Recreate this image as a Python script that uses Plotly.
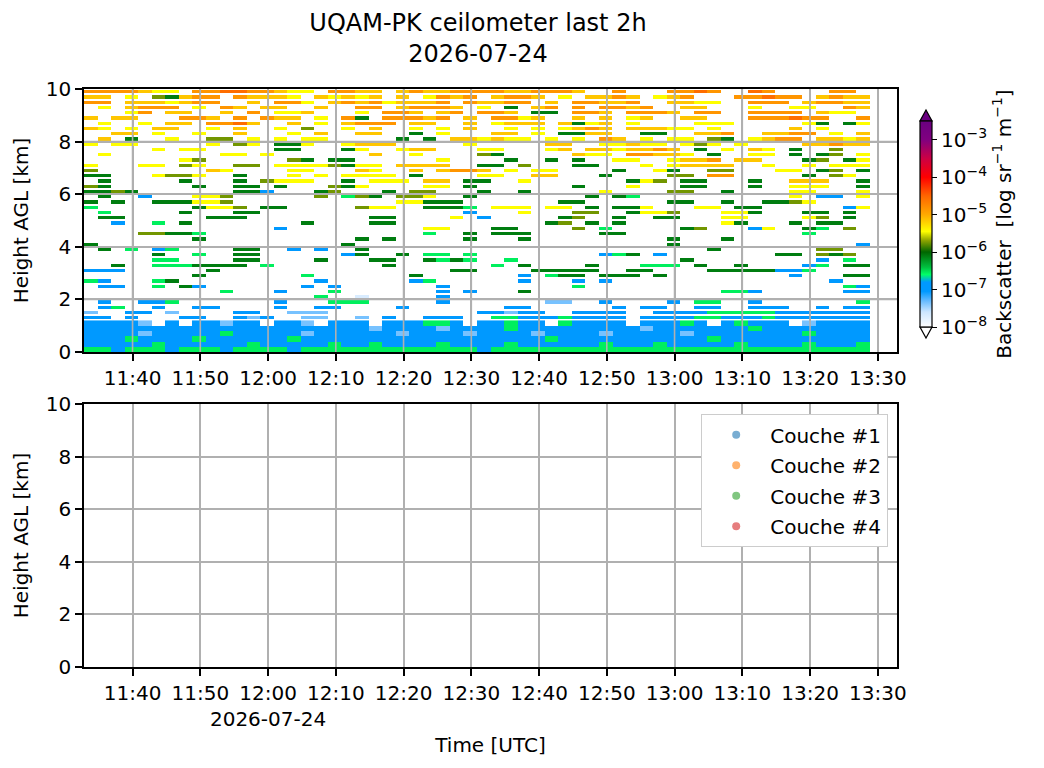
import numpy as np
import pandas as pd
import plotly.graph_objects as go
from plotly.subplots import make_subplots

# jour et fenetre affichee (2 h)
day = "2026-07-24"
t_start = f"{day} 11:32:50"
t_end = f"{day} 13:32:50"
tick_times = ["11:40", "11:50", "12:00", "12:10", "12:20", "12:30",
              "12:40", "12:50", "13:00", "13:10", "13:20", "13:30"]
height_ticks = [0, 2, 4, 6, 8, 10]
cb_exponents = [-8, -7, -6, -5, -4, -3]
layer_names = ["Couche #1", "Couche #2", "Couche #3", "Couche #4"]
layer_colors = ["#1f77b4", "#ff7f0e", "#2ca02c", "#d62728"]

# grille du profil : colonnes de 2 min, rangees de 200 m
col_times = pd.date_range(f"{day} 11:33:50", periods=58, freq="2min")
row_heights = np.arange(0.1, 10.0, 0.2)
n_boundary = 6  # rangees de la couche limite (0-1.2 km), sans espace

# log10 du backscatter, code par caractere ('.' = pas de signal)
level_code = {"1": -7.7, "2": -7.35, "3": -6.95, "4": -6.55, "5": -6.1,
              "6": -5.75, "7": -5.45, "8": -5.15, "9": -4.85, "0": -4.55}

# de 10 km (haut) vers 0 km (bas); colonnes 0-19 / 20-39 / 40-57
rows_a = [
    "9999877.990099877.99", "88.7.65899.98887.878", "99.8887899..8.997.89",
    ".7.8999.7.98.88..8..", "...79.88..8.9.778...", "8.88...998.9.988.7.9",
    ".7..7.88.9908..8.7.8", "87.7.88..7.8..7.6..7", "..88.7..7..8...7.8..",
    ".8.5..7..66.7.7.77..", "7.77.....7.67.557..7", ".....7.77.....55...5",
    ".7........77.7......", ".......76......65.55", "7...77.67..66.777765",
    "6........87....77...", "55...7667..5...7.7.7", ".5.....5...5.6777..5",
    "65......5..55.5...65", "5565.......553...56.", ".5..3...776......6.4",
    "5.5..555776.........", "4.......5776.55.....", ".4.....5...55.......",
    ".55......555........", "..3..4.5........5...", "..............3.....",
    "....66554...........", "........5...........", "5..................5",
    ".5.4.34....55..3.3..", ".....5..4..55......3", ".....44....55....5..",
    "..5..4445555.4......", "333......5..........", "........5.......4...",
    "43...45..........3..", ".33..4.53.......3.3.", "..........4...3...4.",
    ".................4..", ".3..334.......3...44", ".34..3..33....3..33.",
    "2..33.2....33..222..", "33.3...33..323..22..", "33332.3.33233.332.33",
    "33333333333333333333", "33332333334333332333", "33343333433333343333",
    "33333433333343333343", "44344434443444434444",
]
rows_b = [
    "88.89889999889998..9", "78.8.7989.8998.7.889", "8978889.98899.8.9988",
    "99.89998.7.5.89.9.99", "7.998.89.998.55.998.", "5.99989.8.9978..8.8.",
    "999.88..8.7888.8578.", ".8..7.7.8..7.7.7898.", "88..5.7...88.7.5588.",
    "...5.5.887877.7.7.98", "888.....7.....88..77", "7..788...77...78.887",
    ".8..7....65.....877.", "......7....5..5.5..7", "77.8888..55.6...55..",
    "87..8.8998.7.77....5", "777.5....77..88...5.", ".777.88.55..7.......",
    "7....77.5.......5...", "..5.66...5..5.....7.", "65.667..5........5.5",
    "...77555.......55...", "677..5554.777.77.5.5", "........3...7...66..",
    ".55....7.3.....56..5", ".55...........56.5.5", ".....77...55....6.4.",
    ".....4..5.555.....55", "5.5.....5...5.......", "....................",
    "5...................", "5..5.44.4.........34", ".55..5454..4........",
    "..5.......4.5....5..", ".......55....55555..", "....5.......3.455.55",
    "....34......3...3.3.", "......3.........4...", "......3.3...5.......",
    "1.....3.............", "4.....3.......22..3.", "...3.......33......3",
    ".........33233..3333", "2.3..333..4433343333", "3.333443.33433.43333",
    "32333323333433333333", "33323333233332333323", "33333333333333433333",
    "34333343333433333343", "44444444434444444444",
]
rows_c = [
    "...9909..09....99.", "8.789...99099.8988", "9..8877..999.89988",
    "89..88...7..77..98", "9998.99..9999.877.", "78..88...999099..9",
    "7....777.....75.57", "88877.7.....8.7...", ".55..889..8899.7.8",
    ".7.77.65.7899.8878", "877.767.7....88988", "8898.5.7.87.5..6..",
    "99887.5..77.5.56.7", "7..7889.88...56.57", ".7.78888..7..7.777",
    "..75..66...77.56.5", "...66.99.....5.67.", "576.55...5..888..5",
    "7...55...5..777..5", "...66..5....77...7", "4...........7.33.7",
    "...55..5..5567....", "57...77.55......37", "5776...775...55.5.",
    "..55...77....76.5.", ".......75...5.55..", "....56...37..54.6.",
    ".............4....", "...5...5..........", "...5.............3",
    "......5.......66..", "5.3........55.656.", "....5.........3.4.",
    ".444.5..5....34.55", "55....55555334....", "5.5.........3...55",
    "...............3..", "................43", ".......443......33",
    "..................", "...3.44..3.......44", ".33..33..333..3.33",
    "..3333444443333333", ".33334433343333333", ".33343.34333.23333",
    "323333333433333333", "333323333333343333", "333333433333333333",
    "334333334333343334", "444444444444444444",
]

z = []
for a, b, c in zip(rows_a[::-1], rows_b[::-1], rows_c[::-1]):
    s = a.ljust(20, ".")[:20] + b.ljust(20, ".")[:20] + c.ljust(18, ".")[:18]
    z.append([level_code.get(ch, np.nan) for ch in s])

colorscale = [
    [0.000, "#ffffff"], [0.073, "#cce6ff"], [0.127, "#66bbff"],
    [0.173, "#0099ff"], [0.218, "#0099ff"], [0.255, "#00ff66"],
    [0.290, "#00c040"], [0.364, "#006600"], [0.418, "#88a000"],
    [0.464, "#ffff00"], [0.545, "#ffaa00"], [0.636, "#ff6600"],
    [0.727, "#ff0000"], [0.818, "#cc0044"], [0.909, "#800080"],
    [1.000, "#6a0080"],
]

FONT = "DejaVu Sans"
# la page ajoute 8 px de marge autour de la figure
W, H = 1028, 752
ML, MR, MT, MB = 76, 139, 81, 93


def px_x(px):
    return (px - 84) / 813


def px_y(py):
    return (667 - py) / 578


fig = make_subplots(rows=2, cols=1, vertical_spacing=0.09)

cbar = dict(
    lenmode="pixels", len=206, thickness=12,
    x=px_x(920), xanchor="left", xpad=0,
    y=px_y(224), yanchor="middle", ypad=0,
    outlinecolor="black", outlinewidth=1.2,
    tickvals=cb_exponents,
    ticktext=[f"10<sup>\u2212{-e}</sup>" for e in cb_exponents],
    ticks="outside", ticklen=5, tickwidth=1.4, tickcolor="black",
    tickfont=dict(family=FONT, size=20, color="black"),
    title=dict(text="Backscatter\u00a0\u00a0[log sr<sup>\u22121</sup> m<sup>\u22121</sup>]",
               side="right", font=dict(family=FONT, size=20, color="black")),
)

# couche limite (continue) puis nuages / aerosols en fines bandes
fig.add_trace(go.Heatmap(
    x=col_times, y=row_heights[:n_boundary], z=z[:n_boundary], zmin=-8, zmax=-2.5,
    colorscale=colorscale, zsmooth=False, hoverongaps=False, colorbar=cbar,
), row=1, col=1)
fig.add_trace(go.Heatmap(
    x=col_times, y=row_heights[n_boundary:], z=z[n_boundary:], zmin=-8, zmax=-2.5,
    colorscale=colorscale, zsmooth=False, hoverongaps=False, ygap=2, showscale=False,
), row=1, col=1)

for name, color in zip(layer_names, layer_colors):
    fig.add_trace(go.Scatter(
        x=[None], y=[None], mode="markers", name=name, legendgroup=name,
        marker=dict(size=8, color=color, opacity=0.6),
    ), row=2, col=1)

tick_vals = [f"{day} {t}:00" for t in tick_times]
bottom_text = [t if t != "12:00" else f"{t}<br>{day}" for t in tick_times]

axis_style = dict(
    showline=True, mirror=True, linecolor="black", linewidth=1.6,
    ticks="outside", ticklen=7, tickwidth=1.6, tickcolor="black",
    showgrid=True, gridcolor="#b0b0b0", gridwidth=1.6, zeroline=False,
    automargin=False,
    tickfont=dict(family=FONT, size=20, color="black"),
)

fig.update_xaxes(**axis_style, type="date", tickangle=0,
                 range=[t_start, t_end], tickvals=tick_vals)
fig.update_xaxes(ticktext=tick_times, row=1, col=1)
fig.update_xaxes(ticktext=bottom_text, row=2, col=1,
                 title=dict(text="Time [UTC]", standoff=8,
                            font=dict(family=FONT, size=20, color="black")))
fig.update_yaxes(**axis_style, range=[0, 10], tickvals=height_ticks,
                 title=dict(text="Height AGL [km]", standoff=12,
                            font=dict(family=FONT, size=20, color="black")))

# grille au-dessus du profil (comme matplotlib)
shapes = []
for tv in tick_vals:
    shapes.append(dict(type="line", xref="x", yref="y", x0=tv, x1=tv, y0=0, y1=10,
                       line=dict(color="#b0b0b0", width=1.6), layer="above"))
for hv in height_ticks[1:-1]:
    shapes.append(dict(type="line", xref="x", yref="y", x0=t_start, x1=t_end, y0=hv, y1=hv,
                       line=dict(color="#b0b0b0", width=1.6), layer="above"))
# fleches d'extension de la barre de couleur
shapes.append(dict(type="path", xref="paper", yref="paper",
                   path=f"M{px_x(920)},{px_y(121)} L{px_x(932)},{px_y(121)} L{px_x(926)},{px_y(110)} Z",
                   fillcolor="#6a0080", line=dict(color="black", width=1.2), layer="above"))
shapes.append(dict(type="path", xref="paper", yref="paper",
                   path=f"M{px_x(920)},{px_y(327)} L{px_x(932)},{px_y(327)} L{px_x(926)},{px_y(338)} Z",
                   fillcolor="white", line=dict(color="black", width=1.2), layer="above"))

fig.update_layout(
    width=W, height=H,
    margin=dict(l=ML, r=MR, t=MT, b=MB, autoexpand=False),
    paper_bgcolor="white", plot_bgcolor="white",
    font=dict(family=FONT, size=20, color="black"),
    title=dict(text=f"UQAM-PK ceilometer last 2h<br>{day}",
               x=px_x(478), xref="paper", xanchor="center",
               y=1 - 23 / H, yref="container", yanchor="top",
               font=dict(family=FONT, size=24, color="black")),
    legend=dict(x=px_x(888), xanchor="right", y=px_y(414), yanchor="top",
                bgcolor="white", bordercolor="#cccccc", borderwidth=1.2,
                font=dict(family=FONT, size=20, color="black"),
                tracegroupgap=1.5, itemwidth=58),
    shapes=shapes,
)

fig.write_html("out.html")
